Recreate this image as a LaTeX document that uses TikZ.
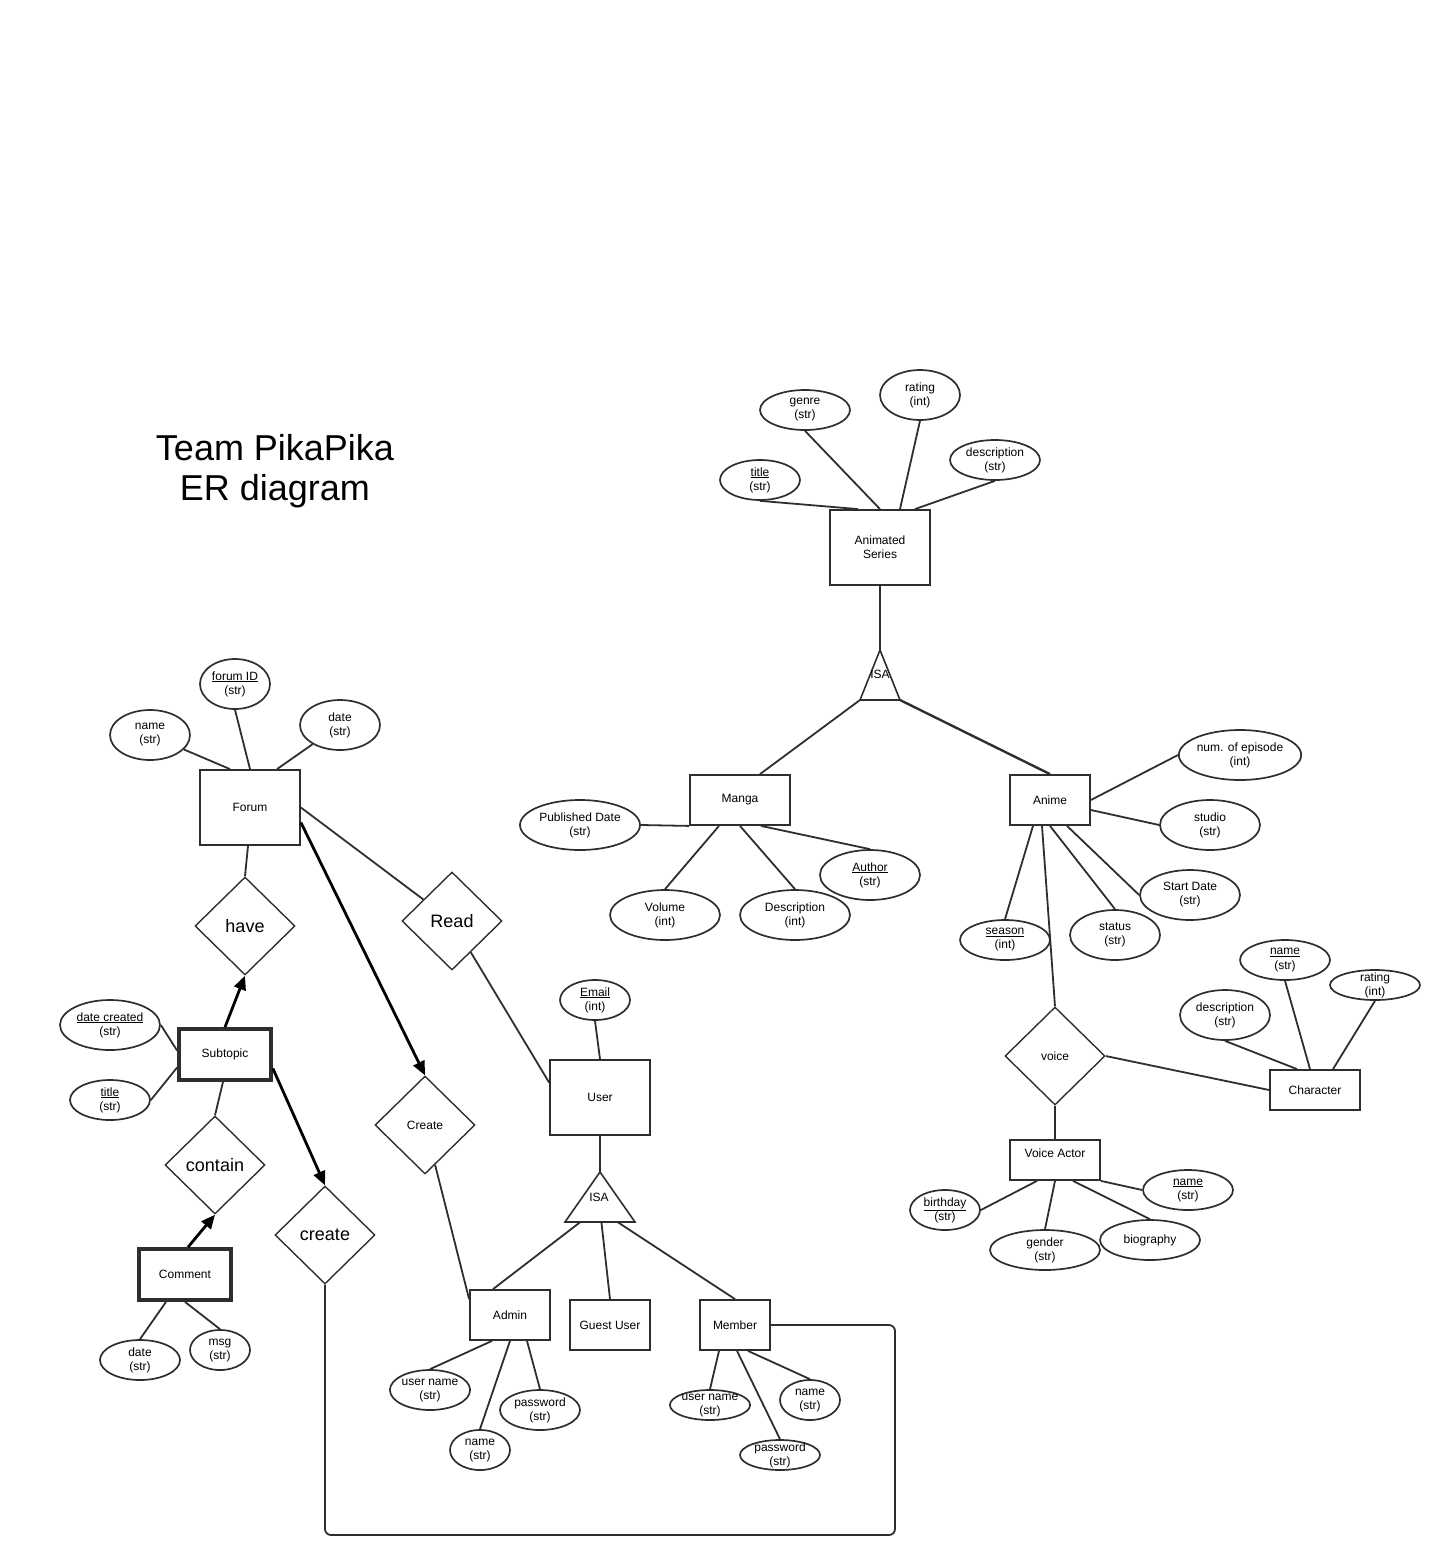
\documentclass[tikz,border=0pt]{standalone}
\usepackage{fontspec}
\setmainfont{Liberation Sans}
\usetikzlibrary{shapes.geometric, arrows.meta, calc}
\definecolor{ink}{HTML}{2E2E2E}
\tikzstyle{entity} = [rectangle, draw = ink, line width = 1.8pt, inner sep = 0pt,
  minimum width = 100pt, minimum height = 50pt, align = center]
\tikzstyle{weak} = [entity, line width = 3.8pt, minimum width = 92pt,
  minimum height = 51pt]
\tikzstyle{attr} = [
  ellipse, draw = ink, line width = 1.7pt,
  inner xsep = 0pt, inner ysep = -4pt,
  minimum width = 80pt, minimum height = 40pt, align = center
]
\tikzstyle{rel} = [diamond, draw = ink, line width = 1.4pt, inner sep = 0pt,
  aspect = 1, minimum width = 100pt, minimum height = 98pt]
\tikzstyle{bigtext} = [font = \fontsize{18}{20}\selectfont]
\tikzstyle{conn} = [draw = ink, line width = 1.8pt]
\tikzstyle{owns} = [draw = black, line width = 2.8pt,
  -{Triangle[length = 14pt, width = 12pt]}]
\tikzstyle{isa} = [draw = ink, line width = 1.6pt]

\begin{document}
\begin{tikzpicture}[x = 1pt, y = -1pt,
    every node/.style = {font = \fontsize{12}{14}\selectfont}]
  \useasboundingbox (0, 0) rectangle (1446, 1561);

  \node [font = \fontsize{36}{40}\selectfont, align = center] (title) at (275, 471)
    {Team PikaPika\\ER diagram};

  \node [entity, minimum height = 75pt] (forum) at (250, 807.5) {Forum};
  \node [attr, minimum width = 70pt, minimum height = 50pt] (forum-id) at (235, 684)
    {\underline{forum ID}\\(str)};
  \node [attr, minimum height = 50pt] (forum-name) at (150, 735) {name\\(str)};
  \node [attr, minimum height = 50pt] (forum-date) at (340, 725) {date\\(str)};
  \node [rel, bigtext] (have) at (245, 926) {have};
  \node [rel, bigtext] (read) at (452, 921) {Read};
  \node [rel] (create-forum) at (425, 1125) {Create};

  \node [weak] (subtopic) at (225, 1054.5) {Subtopic};
  \node [attr, minimum width = 100pt, minimum height = 50pt] (sub-date) at (110, 1025)
    {\underline{date created}\\(str)};
  \node [attr] (sub-title) at (110, 1100) {\underline{title}\\(str)};
  \node [rel, bigtext] (contain) at (215, 1165) {contain};
  \node [rel, bigtext] (create-sub) at (325, 1235) {create};
  \node [weak] (comment) at (185, 1274.5) {Comment};
  \node [attr] (com-date) at (140, 1360) {date\\(str)};
  \node [attr, minimum width = 60pt] (com-msg) at (220, 1350) {msg\\(str)};

  \node [entity, minimum height = 75pt] (user) at (600, 1097.5) {User};
  \node [attr, minimum width = 70pt] (user-email) at (595, 1000)
    {\underline{Email}\\(int)};
  \coordinate (isa-user-top) at (600, 1172);
  \coordinate (isa-user-l) at (565, 1222);
  \coordinate (isa-user-r) at (635, 1222);
  \draw [isa] (isa-user-top) -- (isa-user-r) -- (isa-user-l) -- cycle;
  \node (isa-user) at (599, 1197) {ISA};
  \node [entity, minimum width = 80pt] (admin) at (510, 1315) {Admin};
  \node [entity, minimum width = 80pt] (guest) at (610, 1325) {Guest User};
  \node [entity, minimum width = 70pt] (member) at (735, 1325) {Member};
  \node [attr] (admin-uname) at (430, 1390) {user name\\(str)};
  \node [attr, minimum width = 60pt] (admin-name) at (480, 1450) {name\\(str)};
  \node [attr] (admin-pw) at (540, 1410) {password\\(str)};
  \node [attr, minimum height = 30pt] (mem-uname) at (710, 1405) {user name\\(str)};
  \node [attr, minimum height = 30pt] (mem-pw) at (780, 1455) {password\\(str)};
  \node [attr, minimum width = 60pt] (mem-name) at (810, 1400) {name\\(str)};

  \node [entity, minimum height = 75pt] (series) at (880, 547.5) {Animated\\Series};
  \node [attr, minimum width = 90pt] (series-genre) at (805, 410) {genre\\(str)};
  \node [attr, minimum height = 50pt] (series-rating) at (920, 395) {rating\\(int)};
  \node [attr] (series-title) at (760, 480) {\underline{title}\\(str)};
  \node [attr, minimum width = 90pt] (series-desc) at (995, 460) {description\\(str)};
  \coordinate (isa-series-top) at (880, 650);
  \coordinate (isa-series-l) at (860, 700);
  \coordinate (isa-series-r) at (900, 700);
  \draw [isa] (isa-series-top) -- (isa-series-r) -- (isa-series-l) -- cycle;
  \node (isa-series) at (880, 674) {ISA};

  \node [entity] (manga) at (740, 800) {Manga};
  \node [attr, minimum width = 120pt, minimum height = 50pt] (manga-pub) at (580, 825)
    {Published Date\\(str)};
  \node [attr, minimum width = 110pt, minimum height = 50pt] (manga-vol) at (665, 915)
    {Volume\\(int)};
  \node [attr, minimum width = 110pt, minimum height = 50pt] (manga-desc) at (795, 915)
    {Description\\(int)};
  \node [attr, minimum width = 100pt, minimum height = 50pt] (manga-author) at (870, 875)
    {\underline{Author}\\(str)};

  \node [entity, minimum width = 80pt] (anime) at (1050, 800) {Anime};
  \node [attr, minimum width = 120pt, minimum height = 50pt] (anime-eps) at (1240, 755)
    {num. of episode\\(int)};
  \node [attr, minimum width = 100pt, minimum height = 50pt] (anime-studio) at (1210, 825)
    {studio\\(str)};
  \node [attr, minimum width = 100pt, minimum height = 50pt] (anime-start) at (1190, 895)
    {Start Date\\(str)};
  \node [attr, minimum width = 90pt, minimum height = 50pt] (anime-status) at (1115, 935)
    {status\\(str)};
  \node [attr, minimum width = 90pt] (anime-season) at (1005, 940)
    {\underline{season}\\(int)};

  \node [rel] (voice) at (1055, 1056) {voice};
  \node [entity, minimum width = 90pt, minimum height = 40pt] (character) at (1315, 1090)
    {Character};
  \node [attr, minimum width = 90pt] (char-name) at (1285, 960) {\underline{name}\\(str)};
  \node [attr, minimum width = 90pt, minimum height = 30pt] (char-rating) at (1375, 985)
    {rating\\(int)};
  \node [attr, minimum width = 90pt, minimum height = 50pt] (char-desc) at (1225, 1015)
    {description\\(str)};
  \node [entity, minimum width = 90pt, minimum height = 40pt] (actor) at (1055, 1160)
    {Voice Actor\\~};
  \node [attr, minimum width = 70pt] (actor-birthday) at (945, 1210)
    {\underline{birthday}\\(str)};
  \node [attr, minimum width = 110pt] (actor-gender) at (1045, 1250) {gender\\(str)};
  \node [attr, minimum width = 100pt] (actor-bio) at (1150, 1240) {biography};
  \node [attr, minimum width = 90pt] (actor-name) at (1188, 1190) {\underline{name}\\(str)};

  \draw [conn] (forum-name) -- ([xshift = -20]forum.north);
  \draw [conn] (forum-id.south) -- (forum.north);
  \draw [conn] (forum-date) -- ([xshift = 27]forum.north);
  \draw [conn] ([xshift = -2]forum.south) -- (have.north);
  \draw [conn] (forum.east) -- (read);
  \draw [conn] (read) -- ([yshift = 15]user.west);
  \draw [owns] ([yshift = -15]forum.east) -- (create-forum.north);

  \draw [owns] (subtopic.north) -- (have.south);
  \draw [conn] (sub-date.east) -- ([yshift = 4]subtopic.west);
  \draw [conn] (sub-title.east) -- ([yshift = -13]subtopic.west);
  \draw [conn] ([xshift = -2]subtopic.south) -- (contain.north);
  \draw [owns] ([yshift = -14]subtopic.east) -- (create-sub.north);
  \draw [owns] ([xshift = 3]comment.north) -- (contain.south);
  \draw [conn] ([xshift = -19]comment.south) -- (com-date.north);
  \draw [conn] (comment.south) -- (com-msg.north);

  \coordinate (loop-corner) at (895, 1535);
  \draw [conn, rounded corners = 6pt] (create-sub.south) |- (loop-corner) |- (member.east);

  \draw [conn] (create-forum) -- ([yshift = -10]admin.north west);
  \draw [conn] (user-email.south) -- (user.north);
  \draw [conn] (user.south) -- (isa-user-top);
  \draw [conn] ($(isa-user-l)!.22!(isa-user-r)$) -- ([xshift = -17]admin.north);
  \draw [conn] ($(isa-user-l)!.52!(isa-user-r)$) -- (guest.north);
  \draw [conn] ($(isa-user-l)!.75!(isa-user-r)$) -- (member.north);
  \draw [conn] ([xshift = -18]admin.south) -- (admin-uname.north);
  \draw [conn] (admin.south) -- (admin-name.north);
  \draw [conn] ([xshift = 17]admin.south) -- (admin-pw.north);
  \draw [conn] ([xshift = -16]member.south) -- (mem-uname.north);
  \draw [conn] ([xshift = 2]member.south) -- (mem-pw.north);
  \draw [conn] ([xshift = 13]member.south) -- (mem-name.north);

  \draw [conn] (series-title.south) -- ([xshift = -22]series.north);
  \draw [conn] (series-genre.south) -- (series.north);
  \draw [conn] (series-rating.south) -- ([xshift = 20]series.north);
  \draw [conn] (series-desc.south) -- ([xshift = 35]series.north);
  \draw [conn] (series.south) -- (isa-series-top);
  \draw [conn] (isa-series-l) -- ([xshift = 20]manga.north);
  \draw [conn, line width = 2.4pt] (isa-series-r) -- (anime.north);

  \draw [conn] (manga-pub.east) -- (manga.south west);
  \draw [conn] ([xshift = -21]manga.south) -- (manga-vol.north);
  \draw [conn] (manga.south) -- (manga-desc.north);
  \draw [conn] ([xshift = 21]manga.south) -- (manga-author.north);

  \draw [conn] (anime.east) -- (anime-eps.west);
  \draw [conn] ([yshift = -10]anime.east) -- (anime-studio.west);
  \draw [conn] ([xshift = 17]anime.south) -- (anime-start.west);
  \draw [conn] (anime.south) -- (anime-status.north);
  \draw [conn] ([xshift = -17]anime.south) -- (anime-season.north);
  \draw [conn] ([xshift = -8]anime.south) -- (voice.north);

  \draw [conn] (voice.east) -- (character.west);
  \draw [conn] (voice.south) -- (actor.north);
  \draw [conn] (char-desc.south) -- ([xshift = -18]character.north);
  \draw [conn] (char-name.south) -- ([xshift = -5]character.north);
  \draw [conn] (char-rating.south) -- ([xshift = 18]character.north);
  \draw [conn] ([xshift = -18]actor.south) -- (actor-birthday.east);
  \draw [conn] (actor.south) -- (actor-gender.north);
  \draw [conn] ([xshift = 18]actor.south) -- (actor-bio.north);
  \draw [conn] (actor.south east) -- (actor-name.west);
\end{tikzpicture}
\end{document}
